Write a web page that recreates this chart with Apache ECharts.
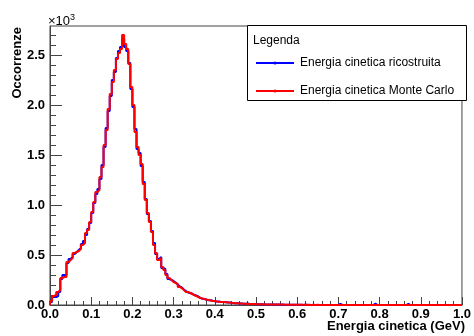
<!DOCTYPE html>
<html>
<head>
<meta charset="utf-8">
<script src="https://cdn.jsdelivr.net/npm/echarts@6/dist/echarts.min.js"></script>
<style>
  html, body { margin: 0; padding: 0; background: #fff; }
  #chart { width: 474px; height: 336px; }
</style>
</head>
<body>
<div id="chart"></div>
<script>
// Histogram binning: 200 bins over 0..1 GeV
const X_MIN = 0;
const X_MAX = 1;
const N_BINS = 200;

const seriesNames = ['Energia cinetica ricostruita', 'Energia cinetica Monte Carlo'];

// Reconstructed kinetic energy, counts per bin
const recoCounts = [
  30, 80, 80, 90, 130, 260, 300, 300, 420, 460, 480, 510, 530, 550, 570, 610, 640, 700, 760, 820,
  920, 1020, 1110, 1160, 1260, 1400, 1580, 1770, 1940, 2090, 2250, 2330, 2470, 2540, 2580, 2660, 2580, 2540, 2420, 2160,
  1980, 1760, 1560, 1520, 1390, 1230, 1060, 910, 840, 740, 620, 510, 460, 480, 370, 360, 310, 260, 250, 240,
  225, 205, 185, 175, 155, 140, 125, 120, 115, 100, 95, 85, 72, 62, 60, 52, 48, 47, 42, 38,
  36, 34, 31, 29, 29, 26, 25, 23, 21, 17, 17, 16, 14, 12, 13, 16, 10, 9, 10, 8,
  7, 7, 8, 6, 5, 6, 5, 4, 5, 4, 4, 3, 4, 3, 3, 2, 3, 3, 2, 2,
  2, 2, 1, 2, 2, 1, 1, 2, 1, 1, 1, 1, 1, 0, 1, 1, 1, 0, 1, 1,
  12, 1, 0, 1, 0, 1, 0, 0, 1, 0, 0, 1, 0, 0, 0, 0, 0, 14, 0, 0,
  1, 0, 0, 0, 0, 0, 1, 0, 0, 0, 0, 0, 0, 12, 0, 0, 0, 1, 0, 0,
  0, 0, 0, 0, 1, 0, 0, 0, 0, 0, 0, 1, 0, 0, 0, 0, 0, 0, 0, 0
];

// Monte Carlo kinetic energy, counts per bin
const mcCounts = [
  40, 90, 100, 130, 150, 270, 280, 280, 430, 450, 470, 520, 530, 540, 560, 600, 620, 720, 750, 830,
  930, 1030, 1130, 1150, 1280, 1380, 1600, 1750, 1960, 2110, 2230, 2350, 2460, 2520, 2560, 2700, 2610, 2560, 2410, 2180,
  2000, 1730, 1580, 1500, 1410, 1210, 1050, 920, 830, 730, 600, 520, 450, 470, 380, 350, 300, 270, 250, 230,
  220, 210, 180, 170, 150, 130, 130, 120, 110, 100, 90, 80, 70, 65, 60, 55, 50, 45, 40, 40,
  35, 33, 30, 30, 28, 27, 25, 22, 20, 18, 17, 15, 14, 13, 12, 11, 10, 9, 9, 8,
  8, 7, 7, 6, 6, 6, 5, 5, 5, 4, 4, 4, 4, 3, 3, 3, 3, 3, 2, 2,
  2, 2, 2, 2, 1, 2, 1, 1, 1, 2, 1, 1, 1, 1, 0, 1, 1, 1, 0, 1,
  1, 0, 1, 0, 1, 0, 0, 1, 0, 1, 0, 0, 1, 0, 0, 0, 1, 0, 0, 1,
  0, 0, 0, 1, 0, 0, 0, 0, 1, 0, 0, 0, 0, 0, 1, 0, 0, 0, 0, 0,
  1, 0, 0, 0, 0, 0, 0, 1, 0, 0, 0, 0, 0, 0, 0, 1, 0, 0, 0, 0
];

// Axis ranges and tick positions
const Y_MAX = 2790;
const yMajorTicks = [0, 500, 1000, 1500, 2000, 2500];
const yMinorTicks = [100, 200, 300, 400, 600, 700, 800, 900, 1100, 1200, 1300, 1400,
  1600, 1700, 1800, 1900, 2100, 2200, 2300, 2400, 2600, 2700];

const FONT = 'Liberation Sans, Arial, Helvetica, sans-serif';

// Turn per-bin counts into step points at the bin low edges
function histPoints(counts) {
  const w = (X_MAX - X_MIN) / N_BINS;
  const pts = [[X_MIN, 0]];
  counts.forEach((c, i) => pts.push([X_MIN + i * w, c]));
  pts.push([X_MAX, counts[counts.length - 1]]);
  return pts;
}

const chart = echarts.init(document.getElementById('chart'), null, { renderer: 'canvas' });

const axisColor = '#444';

chart.setOption({
  animation: false,
  backgroundColor: '#ffffff',
  grid: {
    left: 50, right: 9, top: 26, bottom: 31,
    show: true, borderColor: axisColor, borderWidth: 1, backgroundColor: 'transparent'
  },
  xAxis: {
    type: 'value',
    min: X_MIN, max: X_MAX, interval: 0.1,
    axisLine: { show: true, onZero: false, lineStyle: { color: axisColor, width: 1 } },
    axisTick: { show: true, inside: true, length: 8, lineStyle: { color: axisColor } },
    minorTick: { show: true, splitNumber: 5, length: 4, lineStyle: { color: axisColor } },
    splitLine: { show: false },
    minorSplitLine: { show: false },
    axisLabel: {
      margin: 3, color: '#000', fontFamily: FONT, fontWeight: 'bold', fontSize: 13,
      formatter: v => v.toFixed(1)
    }
  },
  yAxis: [
    {
      type: 'value',
      min: 0, max: Y_MAX,
      name: '×10{sup|3}',
      nameLocation: 'end',
      nameGap: -3,
      nameTextStyle: {
        align: 'left', verticalAlign: 'bottom', color: '#000', fontFamily: FONT, fontSize: 13,
        padding: [0, 0, 0, -2],
        rich: { sup: { fontSize: 9, verticalAlign: 'top', padding: [0, 0, 7, 0], fontFamily: FONT, color: '#000' } }
      },
      axisLine: { show: true, onZero: false, lineStyle: { color: axisColor, width: 1 } },
      axisTick: { show: true, inside: true, length: 12, customValues: yMajorTicks, lineStyle: { color: axisColor } },
      splitLine: { show: false },
      axisLabel: {
        margin: 5, color: '#000', fontFamily: FONT, fontWeight: 'bold', fontSize: 13,
        customValues: yMajorTicks,
        formatter: v => (v / 1000).toFixed(1)
      }
    },
    {
      // second scale on the same side carrying the minor ticks only
      type: 'value',
      min: 0, max: Y_MAX,
      position: 'left',
      axisLine: { show: false },
      axisTick: { show: true, inside: true, length: 6, customValues: yMinorTicks, lineStyle: { color: axisColor } },
      axisLabel: { show: false },
      splitLine: { show: false }
    }
  ],
  legend: {
    data: seriesNames,
    orient: 'vertical',
    left: 255, top: 57,
    padding: 0,
    itemWidth: 38, itemHeight: 4, itemGap: 16,
    textStyle: { fontFamily: FONT, fontSize: 12, color: '#000', padding: [0, 0, 0, 1] },
    z: 20
  },
  graphic: [
    {
      type: 'rect', z: 10,
      shape: { x: 247.5, y: 25.5, width: 219, height: 75 },
      style: { fill: '#fff', stroke: '#000', lineWidth: 1 }
    },
    {
      type: 'text', z: 11, x: 253, y: 41,
      style: { text: 'Legenda', font: '12px ' + FONT, fill: '#000', textVerticalAlign: 'middle' }
    },
    {
      type: 'text', z: 11, x: 465, y: 326,
      style: { text: 'Energia cinetica (GeV)', font: 'bold 13px ' + FONT, fill: '#000',
        textAlign: 'right', textVerticalAlign: 'middle' }
    },
    {
      type: 'text', z: 11, x: 17, y: 27, rotation: Math.PI / 2,
      style: { text: 'Occorrenze', font: 'bold 13px ' + FONT, fill: '#000',
        textAlign: 'right', textVerticalAlign: 'middle' }
    }
  ],
  series: [
    {
      name: seriesNames[0],
      type: 'line',
      step: 'end',
      data: histPoints(recoCounts),
      symbol: 'circle', symbolSize: 2, showSymbol: false,
      lineStyle: { color: '#0000ff', width: 2 },
      itemStyle: { color: '#0000ff' },
      z: 2
    },
    {
      name: seriesNames[1],
      type: 'line',
      step: 'end',
      data: histPoints(mcCounts),
      symbol: 'circle', symbolSize: 2, showSymbol: false,
      lineStyle: { color: '#ff0000', width: 2 },
      itemStyle: { color: '#ff0000' },
      z: 3
    }
  ]
});
</script>
</body>
</html>
